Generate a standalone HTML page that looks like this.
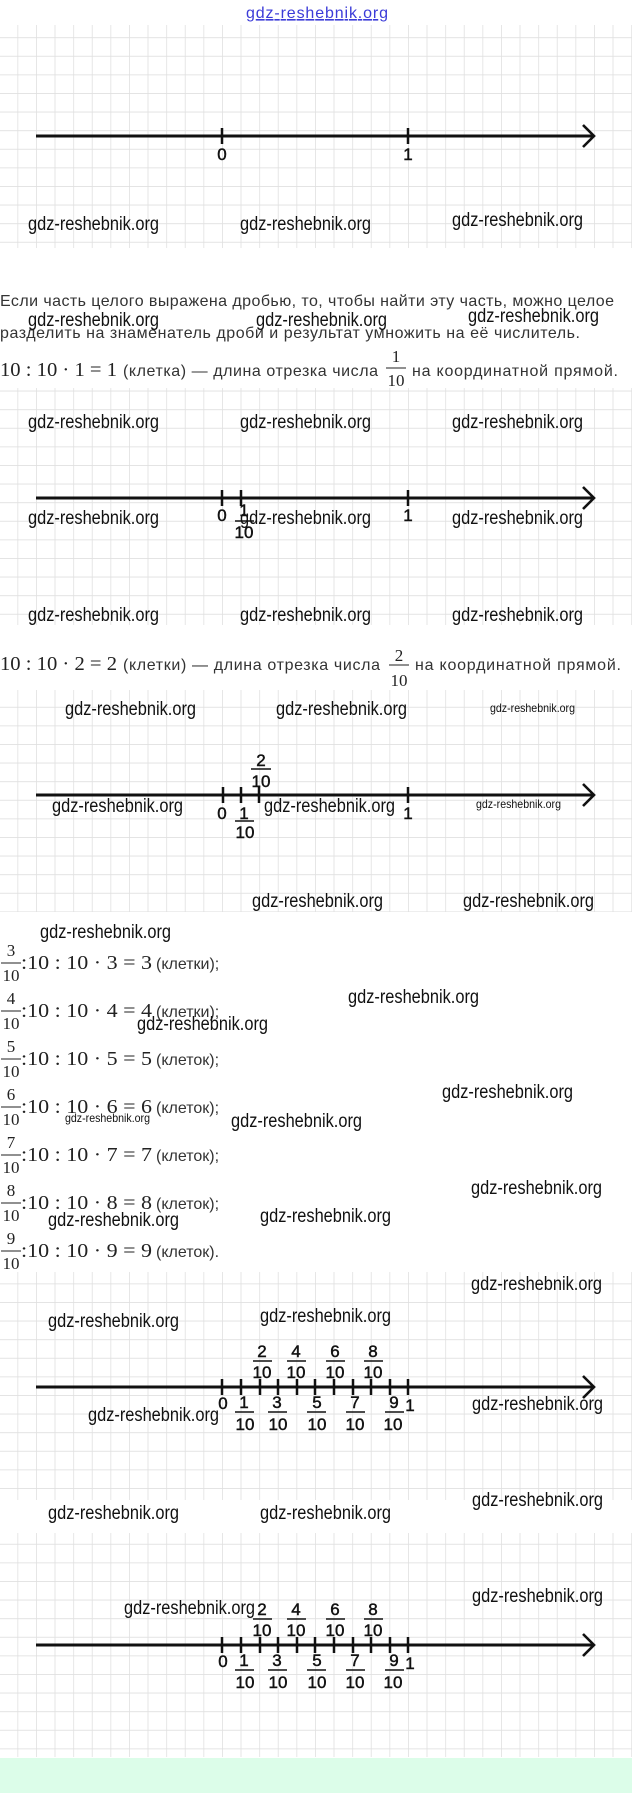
<!DOCTYPE html>
<html><head><meta charset="utf-8"><style>
html,body{margin:0;padding:0;background:#fff;}
svg{display:block;}
.wm{font-family:"Liberation Sans",sans-serif;font-size:19px;fill:#111;}
.wms{font-family:"Liberation Sans",sans-serif;font-size:12px;fill:#111;}
.lb{font-family:"Liberation Sans",sans-serif;font-size:17px;fill:#111;stroke:#111;stroke-width:0.45;text-anchor:middle;}
.tx{font-family:"Liberation Sans","DejaVu Sans",sans-serif;font-size:16px;fill:#333;}
.mt{font-family:"Liberation Serif",serif;font-size:20px;fill:#222;}
.mf{font-family:"Liberation Serif",serif;font-size:17px;fill:#222;text-anchor:middle;}
</style></head><body>
<svg width="632" height="1793" viewBox="0 0 632 1793" xmlns="http://www.w3.org/2000/svg">
<defs>
<pattern id="g" x="17.4" y="0" width="18.6" height="18.6" patternUnits="userSpaceOnUse">
<path d="M0 0V18.6M0 0H18.6" stroke="#e0e0e0" stroke-width="1.6" fill="none"/>
</pattern>
<g id="ax"><path d="M36 0H593" stroke="#111" stroke-width="3"/><path d="M583-11L594 0L583 11" stroke="#111" stroke-width="2.6" fill="none"/></g>
</defs>
<rect width="632" height="1793" fill="#fff"/>
<text x="317" y="18" text-anchor="middle" font-family="Liberation Sans,sans-serif" font-size="16" fill="#3b3bd8" textLength="142" text-decoration="underline">gdz-reshebnik.org</text>
<rect x="0" y="25" width="632" height="223" fill="url(#g)"/>
<rect x="0" y="388" width="632" height="237" fill="url(#g)"/>
<rect x="0" y="690" width="632" height="222" fill="url(#g)"/>
<rect x="0" y="1272" width="632" height="228" fill="url(#g)"/>
<rect x="0" y="1533" width="632" height="224" fill="url(#g)"/>
<rect x="0" y="1758" width="632" height="35" fill="#dcfde9"/>

<g lengthAdjust="spacingAndGlyphs">
<!-- chart 1 -->
<use href="#ax" y="136"/>
<path d="M222 128V144M408 128V144" stroke="#111" stroke-width="2.5"/>
<text class="lb" x="222" y="160">0</text><text class="lb" x="408" y="160">1</text>
<text class="wm" x="28" y="230" textLength="131" lengthAdjust="spacingAndGlyphs">gdz-reshebnik.org</text>
<text class="wm" x="240" y="230" textLength="131" lengthAdjust="spacingAndGlyphs">gdz-reshebnik.org</text>
<text class="wm" x="452" y="226" textLength="131" lengthAdjust="spacingAndGlyphs">gdz-reshebnik.org</text>

<text class="tx" x="0" y="306" textLength="614">Если часть целого выражена дробью, то, чтобы найти эту часть, можно целое</text>
<text class="tx" x="0" y="338" textLength="580">разделить на знаменатель дроби и результат умножить на её числитель.</text>
<text class="wm" x="28" y="326" textLength="131" lengthAdjust="spacingAndGlyphs">gdz-reshebnik.org</text>
<text class="wm" x="256" y="326" textLength="131" lengthAdjust="spacingAndGlyphs">gdz-reshebnik.org</text>
<text class="wm" x="468" y="322" textLength="131" lengthAdjust="spacingAndGlyphs">gdz-reshebnik.org</text>
<text class="mt" x="0" y="376" textLength="117" lengthAdjust="spacingAndGlyphs">10 : 10 · 1 = 1</text>
<text class="tx" x="123" y="376" textLength="255">(клетка) — длина отрезка числа</text>
<text class="mf" x="396" y="362">1</text><path d="M386 368H406" stroke="#222" stroke-width="1"/><text class="mf" x="396" y="386">10</text>
<text class="tx" x="412" y="376" textLength="206">на координатной прямой.</text>

<!-- chart 2 -->
<text class="wm" x="28" y="428" textLength="131" lengthAdjust="spacingAndGlyphs">gdz-reshebnik.org</text>
<text class="wm" x="240" y="428" textLength="131" lengthAdjust="spacingAndGlyphs">gdz-reshebnik.org</text>
<text class="wm" x="452" y="428" textLength="131" lengthAdjust="spacingAndGlyphs">gdz-reshebnik.org</text>
<use href="#ax" y="498"/>
<path d="M222 490V506M241 490V506M408 490V506" stroke="#111" stroke-width="2.5"/>
<text class="lb" x="222" y="521">0</text><text class="lb" x="408" y="521">1</text>
<text class="lb" x="244" y="516">1</text><path d="M235 521H254" stroke="#111" stroke-width="1.6"/><text class="lb" x="244" y="538">10</text>
<text class="wm" x="28" y="524" textLength="131" lengthAdjust="spacingAndGlyphs">gdz-reshebnik.org</text>
<text class="wm" x="240" y="524" textLength="131" lengthAdjust="spacingAndGlyphs">gdz-reshebnik.org</text>
<text class="wm" x="452" y="524" textLength="131" lengthAdjust="spacingAndGlyphs">gdz-reshebnik.org</text>
<text class="wm" x="28" y="621" textLength="131" lengthAdjust="spacingAndGlyphs">gdz-reshebnik.org</text>
<text class="wm" x="240" y="621" textLength="131" lengthAdjust="spacingAndGlyphs">gdz-reshebnik.org</text>
<text class="wm" x="452" y="621" textLength="131" lengthAdjust="spacingAndGlyphs">gdz-reshebnik.org</text>

<text class="mt" x="0" y="670" textLength="117" lengthAdjust="spacingAndGlyphs">10 : 10 · 2 = 2</text>
<text class="tx" x="123" y="670" textLength="257">(клетки) — длина отрезка числа</text>
<text class="mf" x="399" y="661">2</text><path d="M389 665H409" stroke="#222" stroke-width="1"/><text class="mf" x="399" y="686">10</text>
<text class="tx" x="415" y="670" textLength="206">на координатной прямой.</text>

<!-- chart 3 -->
<text class="wm" x="65" y="715" textLength="131" lengthAdjust="spacingAndGlyphs">gdz-reshebnik.org</text>
<text class="wm" x="276" y="715" textLength="131" lengthAdjust="spacingAndGlyphs">gdz-reshebnik.org</text>
<text class="wms" x="490" y="712" textLength="85" lengthAdjust="spacingAndGlyphs">gdz-reshebnik.org</text>
<use href="#ax" y="795"/>
<path d="M223 787V803M241 787V803M259 787V803M408 787V803" stroke="#111" stroke-width="2.5"/>
<text class="lb" x="261" y="766">2</text><path d="M251 769H271" stroke="#111" stroke-width="1.6"/><text class="lb" x="261" y="787">10</text>
<text class="lb" x="222" y="819">0</text><text class="lb" x="408" y="819">1</text>
<text class="lb" x="244" y="819">1</text><path d="M235 821H254" stroke="#111" stroke-width="1.6"/><text class="lb" x="245" y="838">10</text>
<text class="wm" x="52" y="812" textLength="131" lengthAdjust="spacingAndGlyphs">gdz-reshebnik.org</text>
<text class="wm" x="264" y="812" textLength="131" lengthAdjust="spacingAndGlyphs">gdz-reshebnik.org</text>
<text class="wms" x="476" y="808" textLength="85" lengthAdjust="spacingAndGlyphs">gdz-reshebnik.org</text>
<text class="wm" x="252" y="907" textLength="131" lengthAdjust="spacingAndGlyphs">gdz-reshebnik.org</text>
<text class="wm" x="463" y="907" textLength="131" lengthAdjust="spacingAndGlyphs">gdz-reshebnik.org</text>
<text class="wm" x="40" y="938" textLength="131" lengthAdjust="spacingAndGlyphs">gdz-reshebnik.org</text>

<!-- list -->
<g>
<text class="mf" x="11" y="956">3</text><path d="M1 963H21" stroke="#222" stroke-width="1"/><text class="mf" x="11" y="981">10</text>
<text class="mt" x="21" y="969" textLength="131" lengthAdjust="spacingAndGlyphs">:10 : 10 · 3 = 3</text><text class="tx" x="156" y="969" font-size="15">(клетки);</text>
<text class="mf" x="11" y="1004">4</text><path d="M1 1011H21" stroke="#222" stroke-width="1"/><text class="mf" x="11" y="1029">10</text>
<text class="mt" x="21" y="1017" textLength="131" lengthAdjust="spacingAndGlyphs">:10 : 10 · 4 = 4</text><text class="tx" x="156" y="1017" font-size="15">(клетки);</text>
<text class="mf" x="11" y="1052">5</text><path d="M1 1059H21" stroke="#222" stroke-width="1"/><text class="mf" x="11" y="1077">10</text>
<text class="mt" x="21" y="1065" textLength="131" lengthAdjust="spacingAndGlyphs">:10 : 10 · 5 = 5</text><text class="tx" x="156" y="1065" font-size="15">(клеток);</text>
<text class="mf" x="11" y="1100">6</text><path d="M1 1107H21" stroke="#222" stroke-width="1"/><text class="mf" x="11" y="1125">10</text>
<text class="mt" x="21" y="1113" textLength="131" lengthAdjust="spacingAndGlyphs">:10 : 10 · 6 = 6</text><text class="tx" x="156" y="1113" font-size="15">(клеток);</text>
<text class="mf" x="11" y="1148">7</text><path d="M1 1155H21" stroke="#222" stroke-width="1"/><text class="mf" x="11" y="1173">10</text>
<text class="mt" x="21" y="1161" textLength="131" lengthAdjust="spacingAndGlyphs">:10 : 10 · 7 = 7</text><text class="tx" x="156" y="1161" font-size="15">(клеток);</text>
<text class="mf" x="11" y="1196">8</text><path d="M1 1203H21" stroke="#222" stroke-width="1"/><text class="mf" x="11" y="1221">10</text>
<text class="mt" x="21" y="1209" textLength="131" lengthAdjust="spacingAndGlyphs">:10 : 10 · 8 = 8</text><text class="tx" x="156" y="1209" font-size="15">(клеток);</text>
<text class="mf" x="11" y="1244">9</text><path d="M1 1251H21" stroke="#222" stroke-width="1"/><text class="mf" x="11" y="1269">10</text>
<text class="mt" x="21" y="1257" textLength="131" lengthAdjust="spacingAndGlyphs">:10 : 10 · 9 = 9</text><text class="tx" x="156" y="1257" font-size="15">(клеток).</text>
</g>
<text class="wm" x="348" y="1003" textLength="131" lengthAdjust="spacingAndGlyphs">gdz-reshebnik.org</text>
<text class="wm" x="137" y="1030" textLength="131" lengthAdjust="spacingAndGlyphs">gdz-reshebnik.org</text>
<text class="wm" x="442" y="1098" textLength="131" lengthAdjust="spacingAndGlyphs">gdz-reshebnik.org</text>
<text class="wms" x="65" y="1122" textLength="85" lengthAdjust="spacingAndGlyphs">gdz-reshebnik.org</text>
<text class="wm" x="231" y="1127" textLength="131" lengthAdjust="spacingAndGlyphs">gdz-reshebnik.org</text>
<text class="wm" x="471" y="1194" textLength="131" lengthAdjust="spacingAndGlyphs">gdz-reshebnik.org</text>
<text class="wm" x="48" y="1226" textLength="131" lengthAdjust="spacingAndGlyphs">gdz-reshebnik.org</text>
<text class="wm" x="260" y="1222" textLength="131" lengthAdjust="spacingAndGlyphs">gdz-reshebnik.org</text>
<text class="wm" x="471" y="1290" textLength="131" lengthAdjust="spacingAndGlyphs">gdz-reshebnik.org</text>

<!-- chart 4 -->
<g id="c4">
<use href="#ax" y="1387"/>
<path d="M222 1379V1395M241 1379V1395M260 1379V1395M278 1379V1395M297 1379V1395M315 1379V1395M334 1379V1395M353 1379V1395M371 1379V1395M390 1379V1395M408 1379V1395" stroke="#111" stroke-width="2.5"/>
<g>
<text class="lb" x="262" y="1357">2</text><path d="M253 1361H272" stroke="#111" stroke-width="1.6"/><text class="lb" x="262" y="1378">10</text>
<text class="lb" x="296" y="1357">4</text><path d="M287 1361H306" stroke="#111" stroke-width="1.6"/><text class="lb" x="296" y="1378">10</text>
<text class="lb" x="335" y="1357">6</text><path d="M326 1361H345" stroke="#111" stroke-width="1.6"/><text class="lb" x="335" y="1378">10</text>
<text class="lb" x="373" y="1357">8</text><path d="M364 1361H383" stroke="#111" stroke-width="1.6"/><text class="lb" x="373" y="1378">10</text>
</g>
<text class="lb" x="223" y="1409">0</text><text class="lb" x="410" y="1411">1</text>
<text class="lb" x="244" y="1408">1</text><path d="M235 1412H254" stroke="#111" stroke-width="1.6"/><text class="lb" x="245" y="1430">10</text>
<text class="lb" x="277" y="1408">3</text><path d="M268 1412H287" stroke="#111" stroke-width="1.6"/><text class="lb" x="278" y="1430">10</text>
<text class="lb" x="317" y="1408">5</text><path d="M307 1412H326" stroke="#111" stroke-width="1.6"/><text class="lb" x="317" y="1430">10</text>
<text class="lb" x="355" y="1408">7</text><path d="M346 1412H365" stroke="#111" stroke-width="1.6"/><text class="lb" x="355" y="1430">10</text>
<text class="lb" x="394" y="1408">9</text><path d="M385 1412H404" stroke="#111" stroke-width="1.6"/><text class="lb" x="393" y="1430">10</text>
</g>
<text class="wm" x="48" y="1327" textLength="131" lengthAdjust="spacingAndGlyphs">gdz-reshebnik.org</text>
<text class="wm" x="260" y="1322" textLength="131" lengthAdjust="spacingAndGlyphs">gdz-reshebnik.org</text>
<text class="wm" x="88" y="1421" textLength="131" lengthAdjust="spacingAndGlyphs">gdz-reshebnik.org</text>
<text class="wm" x="472" y="1410" textLength="131" lengthAdjust="spacingAndGlyphs">gdz-reshebnik.org</text>
<text class="wm" x="48" y="1519" textLength="131" lengthAdjust="spacingAndGlyphs">gdz-reshebnik.org</text>
<text class="wm" x="260" y="1519" textLength="131" lengthAdjust="spacingAndGlyphs">gdz-reshebnik.org</text>
<text class="wm" x="472" y="1506" textLength="131" lengthAdjust="spacingAndGlyphs">gdz-reshebnik.org</text>

<!-- chart 5 -->
<use href="#c4" y="258"/>
<text class="wm" x="124" y="1614" textLength="131" lengthAdjust="spacingAndGlyphs">gdz-reshebnik.org</text>
<text class="wm" x="472" y="1602" textLength="131" lengthAdjust="spacingAndGlyphs">gdz-reshebnik.org</text>
</g>
</svg>
</body></html>
